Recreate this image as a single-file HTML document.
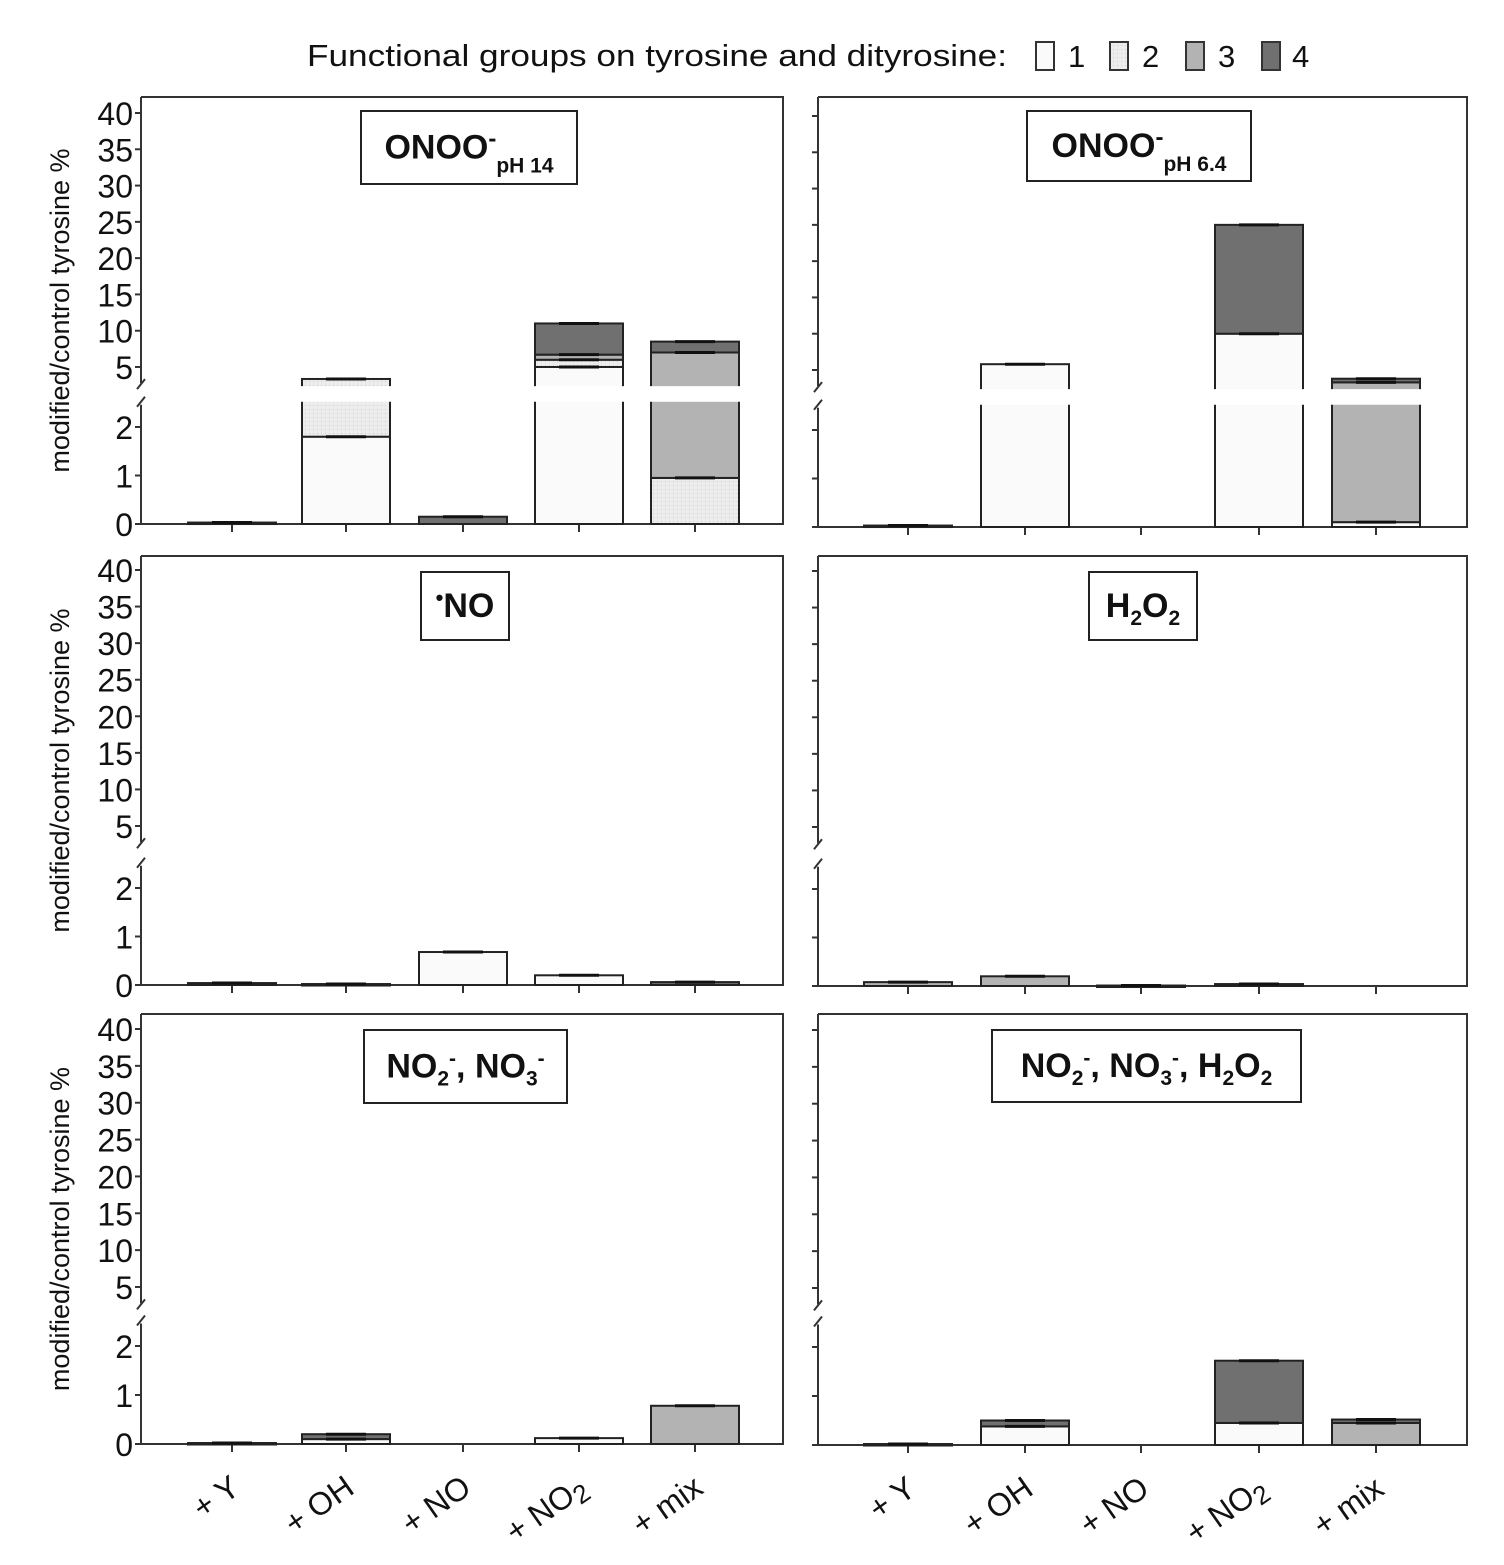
<!DOCTYPE html>
<html><head><meta charset="utf-8"><style>
html,body{margin:0;padding:0;background:#fff;}
svg{display:block;}
text{font-family:"Liberation Sans",sans-serif;fill:#111;}
</style></head><body>
<svg id="s" width="1504" height="1565" viewBox="0 0 1504 1565" xmlns="http://www.w3.org/2000/svg">
<defs>
<pattern id="dots" width="4" height="4" patternUnits="userSpaceOnUse"><rect width="4" height="4" fill="#ececec"/><rect x="1" y="1" width="1" height="1" fill="#cfcfcf"/></pattern>
</defs>
<text x="307" y="66" font-size="31" textLength="700" lengthAdjust="spacingAndGlyphs">Functional groups on tyrosine and dityrosine:</text>
<rect x="1036" y="42" width="18" height="28" fill="#fafafa" stroke="#333" stroke-width="2"/><text x="1068" y="67" font-size="31">1</text>
<rect x="1110" y="42" width="18" height="28" fill="url(#dots)" stroke="#333" stroke-width="2"/><text x="1142" y="67" font-size="31">2</text>
<rect x="1186" y="42" width="18" height="28" fill="#b3b3b3" stroke="#333" stroke-width="2"/><text x="1218" y="67" font-size="31">3</text>
<rect x="1262" y="42" width="18" height="28" fill="#707070" stroke="#333" stroke-width="2"/><text x="1292" y="67" font-size="31">4</text>
<g id="g"></g>
</svg>
<script>
var G=document.getElementById('g'),h='';
var fills={1:'#fafafa',2:'url(#dots)',3:'#b3b3b3',4:'#707070'};
var cols=[{x0:141,x1:783,cx:[232,346,463,579,695]},{x0:818,x1:1467,cx:[908,1025,1141,1259,1376]}];
var rows=[{top:97,y40:113,y5:367,y0:524,u:48.5},{top:556,y40:570,y5:826,y0:985,u:48.5},{top:1014,y40:1029,y5:1287,y0:1444,u:49}];
var data=[
 [[[[0,0.03,4]],[[0,1.8,1],[1.8,3.35,2]],[[0,0.15,4]],[[0,5,1],[5,6,2],[6,6.7,3],[6.7,11,4]],[[0,0.95,2],[0.95,7,3],[7,8.5,4]]],
  [[[0,0.03,4]],[[0,5.8,1]],[],[[0,10,1],[10,25,4]],[[0,0.1,1],[0.1,3.3,3],[3.3,3.8,4]]]],
 [[[[0,0.04,4]],[[0,0.02,4]],[[0,0.68,1]],[[0,0.2,1]],[[0,0.06,4]]],
  [[[0,0.08,3]],[[0,0.2,3]],[[0,0.01,4]],[[0,0.04,4]],[]]],
 [[[[0,0.02,4]],[[0,0.1,1],[0.1,0.2,4]],[],[[0,0.12,1]],[[0,0.78,3]]],
  [[[0,0.02,4]],[[0,0.38,1],[0.38,0.5,4]],[],[[0,0.45,1],[0.45,1.72,4]],[[0,0.45,3],[0.45,0.52,4]]]]
];
var B='font-weight="bold"';
var titles=[
 ['<tspan '+B+' font-size="34">ONOO</tspan><tspan '+B+' font-size="24" dy="-12">-</tspan><tspan '+B+' font-size="21" dy="26">pH 14</tspan>',[361,111,216,73]],
 ['<tspan '+B+' font-size="34">ONOO</tspan><tspan '+B+' font-size="24" dy="-12">-</tspan><tspan '+B+' font-size="21" dy="26">pH 6.4</tspan>',[1027,111,224,70]],
 ['<tspan '+B+' font-size="22" dy="-12">•</tspan><tspan '+B+' font-size="34" dy="12">NO</tspan>',[421,572,88,68]],
 ['<tspan '+B+' font-size="34">H</tspan><tspan '+B+' font-size="21" dy="8">2</tspan><tspan '+B+' font-size="34" dy="-8">O</tspan><tspan '+B+' font-size="21" dy="8">2</tspan>',[1089,572,108,68]],
 ['<tspan '+B+' font-size="34">NO</tspan><tspan '+B+' font-size="21" dy="8">2</tspan><tspan '+B+' font-size="21" dy="-20">-</tspan><tspan '+B+' font-size="34" dy="12">, NO</tspan><tspan '+B+' font-size="21" dy="8">3</tspan><tspan '+B+' font-size="21" dy="-20">-</tspan>',[364,1030,203,73]],
 ['<tspan '+B+' font-size="34">NO</tspan><tspan '+B+' font-size="21" dy="8">2</tspan><tspan '+B+' font-size="21" dy="-20">-</tspan><tspan '+B+' font-size="34" dy="12">, NO</tspan><tspan '+B+' font-size="21" dy="8">3</tspan><tspan '+B+' font-size="21" dy="-20">-</tspan><tspan '+B+' font-size="34" dy="12">, H</tspan><tspan '+B+' font-size="21" dy="8">2</tspan><tspan '+B+' font-size="34" dy="-8">O</tspan><tspan '+B+' font-size="21" dy="8">2</tspan>',[992,1030,309,72]]
];
var xl=['+ Y','+ OH','+ NO','+ NO<tspan font-size="26" dy="6">2</tspan>','+ mix'];
for(var r=0;r<3;r++)for(var c=0;c<2;c++){
 var R=rows[r],C=cols[c],off=(c==1&&r==0)?3:(c==1?1:0);
 var uu=(R.y5-R.y40)/35;
 var Y=function(v){return v>2.5? R.y5-(v-5)*uu+off : R.y0-v*R.u+off;};
 var yb=R.y0+off, bUp=R.y5+2.5*uu+off, bLo=R.y0-2.5*R.u+off;
 h+='<polyline points="'+C.x0+','+R.top+' '+C.x1+','+R.top+' '+C.x1+','+yb+' '+C.x0+','+yb+'" fill="none" stroke="#333" stroke-width="2"/>';
 h+='<line x1="'+C.x0+'" y1="'+R.top+'" x2="'+C.x0+'" y2="'+(bUp-2)+'" stroke="#333" stroke-width="2"/>';
 h+='<line x1="'+C.x0+'" y1="'+(bLo+2)+'" x2="'+C.x0+'" y2="'+yb+'" stroke="#333" stroke-width="2"/>';
 h+='<line x1="'+(C.x0-4)+'" y1="'+(bUp+4)+'" x2="'+(C.x0+4)+'" y2="'+(bUp-6)+'" stroke="#333" stroke-width="2"/>';
 h+='<line x1="'+(C.x0-4)+'" y1="'+(bLo+4)+'" x2="'+(C.x0+4)+'" y2="'+(bLo-6)+'" stroke="#333" stroke-width="2"/>';
 [40,35,30,25,20,15,10,5,2,1,0].forEach(function(t){var y=Y(t);
  h+='<line x1="'+(C.x0-6)+'" y1="'+y+'" x2="'+C.x0+'" y2="'+y+'" stroke="#333" stroke-width="2"/>';
  if(c==0)h+='<text x="'+(C.x0-8)+'" y="'+(y+12)+'" font-size="32" text-anchor="end">'+t+'</text>';});
 if(c==0){var my=(R.top+yb)/2;h+='<text transform="translate(69,'+my+') rotate(-90)" font-size="27" text-anchor="middle">modified/control tyrosine %</text>';}
 C.cx.forEach(function(x,i){
  h+='<line x1="'+x+'" y1="'+yb+'" x2="'+x+'" y2="'+(yb+8)+'" stroke="#333" stroke-width="2"/>';
  var segs=data[r][c][i];if(!segs.length)return;
  var bw=88,x0=x-bw/2,top=0;
  segs.forEach(function(s){
   top=Math.max(top,s[1]);
   var y1=Y(s[1]),y2=Y(s[0]);
   h+='<rect x="'+x0+'" y="'+y1+'" width="'+bw+'" height="'+Math.max(1.5,y2-y1)+'" fill="'+fills[s[2]]+'" stroke="#222" stroke-width="2"/>';
  });
  if(top>2.5&&segs[0][0]<2.5){h+='<rect x="'+(x0-3)+'" y="'+(bUp+1)+'" width="'+(bw+6)+'" height="'+(bLo-bUp-2)+'" fill="#fff"/>';}
  segs.forEach(function(s){var y=Y(s[1]);h+='<line x1="'+(x-20)+'" y1="'+y+'" x2="'+(x+20)+'" y2="'+y+'" stroke="#111" stroke-width="3"/>';});
 });
 if(r==2){C.cx.forEach(function(x,i){h+='<text transform="translate('+(x+10)+','+(yb+48)+') rotate(-35)" font-size="32" text-anchor="end">'+xl[i]+'</text>';});}
 var T=titles[r*2+c],b=T[1];
 h+='<rect x="'+b[0]+'" y="'+b[1]+'" width="'+b[2]+'" height="'+b[3]+'" fill="#fff" stroke="#222" stroke-width="2"/>';
 h+='<text x="'+(b[0]+b[2]/2)+'" y="'+(b[1]+b[3]/2+11)+'" text-anchor="middle">'+T[0]+'</text>';
}
G.innerHTML=h;
</script>
</body></html>
